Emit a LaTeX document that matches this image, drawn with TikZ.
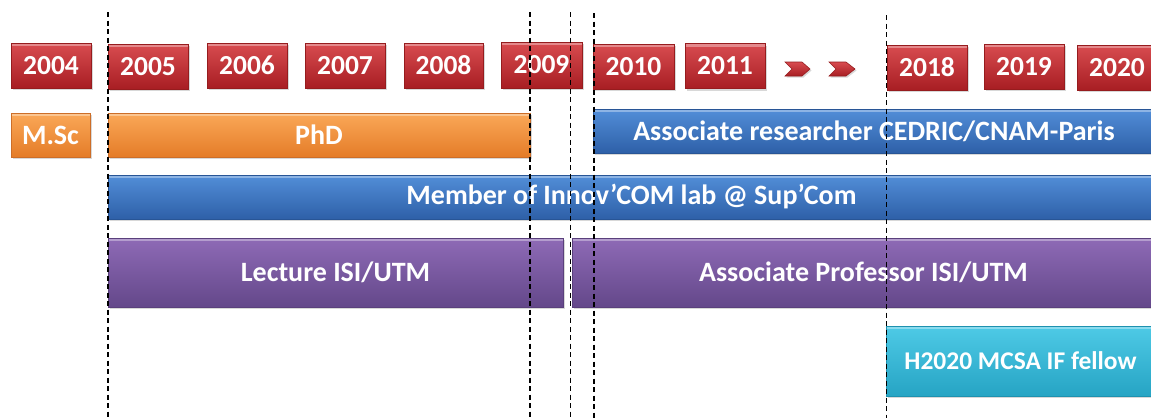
\documentclass[tikz,border=0pt]{standalone}
\usepackage{fontspec}
\setmainfont{Carlito}
\usetikzlibrary{shadows}
\definecolor{redtop}{RGB}{216,76,80}
\definecolor{redmid}{RGB}{196,44,48}
\definecolor{redbot}{RGB}{168,30,35}
\definecolor{rededge}{RGB}{150,28,30}
\definecolor{ortop}{RGB}{250,168,88}
\definecolor{ormid}{RGB}{246,146,60}
\definecolor{orbot}{RGB}{228,124,40}
\definecolor{oredge}{RGB}{205,110,40}
\definecolor{bltop}{RGB}{82,142,216}
\definecolor{blmid}{RGB}{62,121,200}
\definecolor{blbot}{RGB}{46,96,168}
\definecolor{bledge}{RGB}{40,85,150}
\definecolor{pptop}{RGB}{142,106,182}
\definecolor{ppmid}{RGB}{126,91,166}
\definecolor{ppbot}{RGB}{100,72,138}
\definecolor{ppedge}{RGB}{90,64,124}
\definecolor{cytop}{RGB}{78,202,230}
\definecolor{cymid}{RGB}{56,186,216}
\definecolor{cybot}{RGB}{38,164,196}
\definecolor{cyedge}{RGB}{30,145,175}
\tikzset{
  x=1pt, y=-1pt,
  base/.style={rectangle, inner sep=0pt, line width=0.8pt, text=white,
    font=\fontsize{28}{32}\selectfont\bfseries,
    path picture={\fill[white, opacity=0.35]
      (path picture bounding box.north west) rectangle
      ([yshift=-3pt]path picture bounding box.north east);},
    drop shadow={shadow xshift=2pt, shadow yshift=-2pt, opacity=0.3}},
  yearbox/.style={base, minimum width=80pt, minimum height=45pt,
    font=\fontsize{27.5}{32}\selectfont\bfseries,
    top color=redtop, middle color=redmid, bottom color=redbot, draw=rededge},
  orbar/.style={base, minimum height=44pt,
    top color=ortop, middle color=ormid, bottom color=orbot, draw=oredge},
  blbar/.style={base, minimum height=44pt,
    top color=bltop, middle color=blmid, bottom color=blbot, draw=bledge},
  ppbar/.style={base, minimum height=69pt,
    top color=pptop, middle color=ppmid, bottom color=ppbot, draw=ppedge},
  cybar/.style={base, minimum height=70pt,
    font=\fontsize{25.5}{30}\selectfont\bfseries,
    top color=cytop, middle color=cymid, bottom color=cybot, draw=cyedge},
  chev/.style={top color=redtop, bottom color=redbot, draw=rededge, line width=0.6pt,
    drop shadow={shadow xshift=1.5pt, shadow yshift=-1.5pt, opacity=0.3}},
  guide/.style={black, line width=1.1pt, dash pattern=on 5pt off 3.5pt}
}
\begin{document}
\begin{tikzpicture}
\useasboundingbox[fill=white] (0,0) rectangle (1151,418);
% years
\node[yearbox] (y2004) at (51,65.5) {2004};
\node[yearbox] (y2005) at (148,66.5) {2005};
\node[yearbox] (y2006) at (247,65.5) {2006};
\node[yearbox] (y2007) at (345,65.5) {2007};
\node[yearbox, minimum width=79pt] (y2008) at (443.5,65.5) {2008};
\node[yearbox, minimum width=81pt, minimum height=46pt] (y2009) at (541.5,65) {2009};
\node[yearbox, minimum width=81pt] (y2010) at (633.5,66.5) {2010};
\node[yearbox] (y2011) at (725,66) {2011};
\node[yearbox] (y2018) at (927,67.5) {2018};
\node[yearbox] (y2019) at (1024,66.5) {2019};
\node[yearbox] (y2020) at (1117,67.5) {2020};
% chevrons
\path[chev] (785,62) -- (802,62) -- (810,69) -- (802,76) -- (785,76) -- (792,69) -- cycle;
\path[chev] (829,62) -- (846,62) -- (855,69) -- (846,76) -- (829,76) -- (836,69) -- cycle;
% bars
\node[orbar, minimum width=79pt] (msc) at (50.5,135) {M.Sc};
\node[orbar, minimum width=422pt] (phd) at (319,135) {PhD};
\node[blbar, minimum width=562pt] (cedric) at (874,131) {Associate researcher CEDRIC/CNAM-Paris};
\node[blbar, minimum width=1047pt] (innov) at (631.5,197) {Member of Innov’COM lab @ Sup’Com};
\node[ppbar, minimum width=455pt] (lect) at (335.5,272.5) {Lecture ISI/UTM};
\node[ppbar, minimum width=583pt] (aprof) at (863.5,272.5) {Associate Professor ISI/UTM};
\node[cybar, minimum width=269pt] (h2020) at (1020.5,361) {H2020 MCSA IF fellow};
% guides
\draw[guide] (108,12) -- (108,418);
\draw[guide] (530,12) -- (530,418);
\draw[guide] (570.5,12) -- (570.5,418);
\draw[guide] (594,13) -- (594,418);
\draw[guide] (886.5,15) -- (886.5,418);
\end{tikzpicture}
\end{document}
